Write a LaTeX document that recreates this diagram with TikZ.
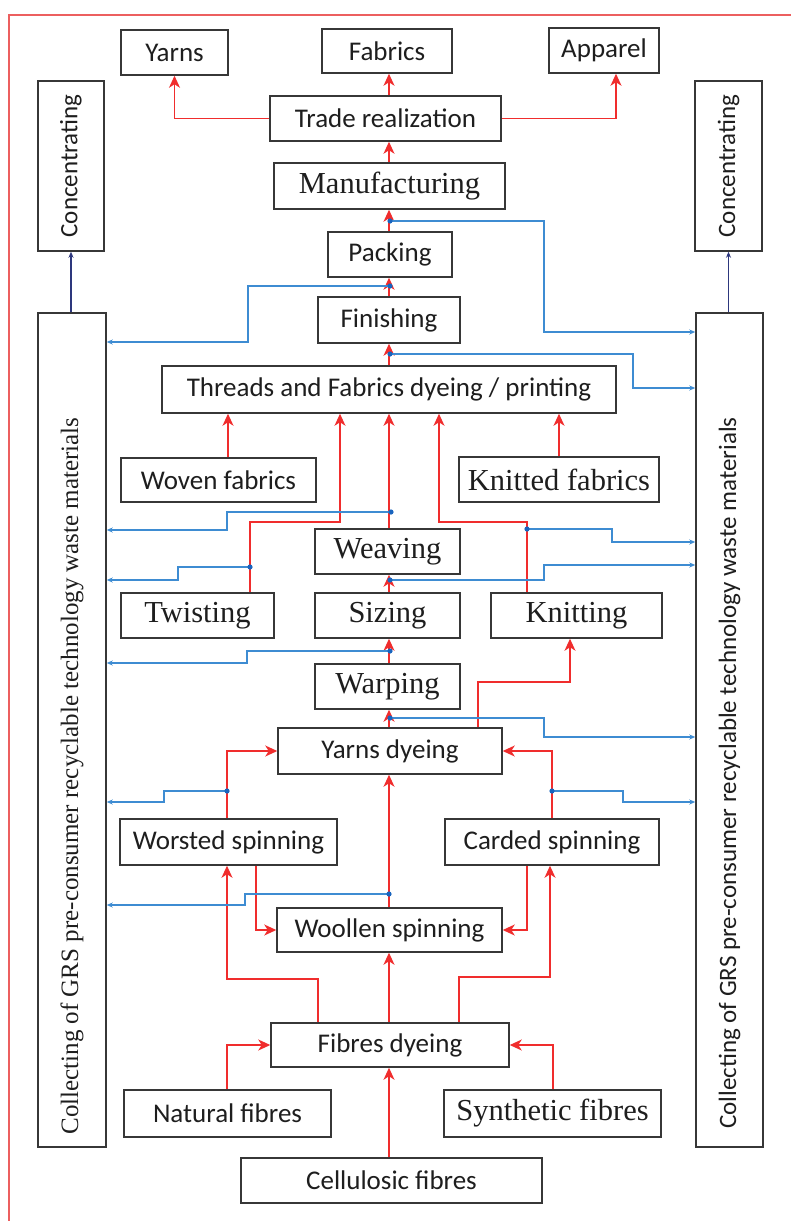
\documentclass[tikz,border=0pt]{standalone}
\usepackage{fontspec}
\setmainfont{Carlito}
\newfontfamily\serifface{Liberation Serif}
\usetikzlibrary{arrows.meta}
\definecolor{flowred}{RGB}{240,45,45}
\definecolor{wasteblue}{RGB}{62,140,210}
\definecolor{dotblue}{RGB}{25,100,190}
\definecolor{navyline}{RGB}{45,55,125}
\definecolor{framered}{RGB}{236,95,95}
\definecolor{boxline}{RGB}{55,55,55}
\definecolor{ink}{RGB}{30,30,30}

\begin{document}
\begin{tikzpicture}[x=1pt,y=-1pt,
  box/.style={draw=boxline, line width=1.5pt, inner sep=0pt, text=ink,
    font=\fontsize{27}{30}\selectfont},
  sbox/.style={box, font=\serifface\fontsize{30.5}{33}\selectfont},
  vlabel/.style={rotate=90, inner sep=0pt, text=ink},
  rarr/.style={draw=flowred, line width=1.3pt,
    -{Stealth[length=12pt,width=11pt,inset=3.5pt]}},
  barr/.style={draw=wasteblue, line width=1.3pt,
    -{Stealth[length=6pt,width=5pt]}},
  narr/.style={draw=navyline, line width=1.2pt,
    -{Stealth[length=6pt,width=5pt]}},
  wdot/.style={fill=dotblue},
  frame/.style={draw=framered, line width=1.6pt}
]
\useasboundingbox (0,0) rectangle (791,1221);
\fill[white] (0,0) rectangle (791,1221);

% outer frame
\draw[frame] (9,1221) -- (9,15) -- (791,15);

% column of the main flow
\coordinate (cx) at (389,0);

% ---- boxes ----
\node[box, minimum width=107pt, minimum height=45pt] (yarns)   at (174.5,52.5) {Yarns};
\node[box, minimum width=130pt, minimum height=44pt] (fabrics) at (387,51) {Fabrics};
\node[box, minimum width=110pt, minimum height=45pt] (apparel) at (604,50.5) {Apparel};
\node[box, minimum width=231pt, minimum height=45pt] (trade)   at (385.5,118.5) {Trade realization};
\node[sbox, minimum width=231pt, minimum height=46pt] (manuf)  at (389.5,186) {Manufacturing};
\node[box, minimum width=124pt, minimum height=45pt] (packing) at (390,254.5) {Packing};
\node[box, minimum width=142pt, minimum height=46pt] (finish)  at (389,320) {Finishing};
\node[box, minimum width=454pt, minimum height=47pt] (threads) at (389,389.5) {Threads and Fabrics dyeing / printing};
\node[box, minimum width=195pt, minimum height=44pt] (woven)   at (218.5,480) {Woven fabrics};
\node[sbox, minimum width=200pt, minimum height=45pt] (knitted) at (559,479.5) {Knitted fabrics};
\node[sbox, minimum width=145pt, minimum height=45pt] (weaving) at (387.5,551.5) {Weaving};
\node[sbox, minimum width=153pt, minimum height=45pt] (twisting) at (197.5,615.5) {Twisting};
\node[sbox, minimum width=145pt, minimum height=45pt] (sizing)  at (387.5,615.5) {Sizing};
\node[sbox, minimum width=171pt, minimum height=45pt] (knitting) at (576.5,615.5) {Knitting};
\node[sbox, minimum width=145pt, minimum height=45pt] (warping) at (387.5,686.5) {Warping};
\node[box, minimum width=224pt, minimum height=46pt] (yarnsdye) at (390,751) {Yarns dyeing};
\node[box, minimum width=217pt, minimum height=46pt] (worsted) at (228.5,842) {Worsted spinning};
\node[box, minimum width=214pt, minimum height=46pt] (carded)  at (552,842) {Carded spinning};
\node[box, minimum width=225pt, minimum height=44pt] (woollen) at (389.5,930) {Woollen spinning};
\node[box, minimum width=238pt, minimum height=44pt] (fibres)  at (390,1045) {Fibres dyeing};
\node[box, minimum width=207pt, minimum height=47pt] (natural) at (227.5,1113.5) {Natural fibres};
\node[sbox, minimum width=217pt, minimum height=47pt] (synth)  at (552.5,1113.5) {Synthetic fibres};
\node[box, minimum width=301pt, minimum height=45pt] (cellu)   at (391.5,1180.5) {Cellulosic fibres};

% side columns
\node[box, minimum width=66pt, minimum height=170pt] (concL) at (71,166) {};
\node[box, minimum width=67pt, minimum height=170pt] (concR) at (728.5,166) {};
\node[box, minimum width=68pt, minimum height=834pt] (collL) at (72,730) {};
\node[box, minimum width=67pt, minimum height=834pt] (collR) at (729.5,730) {};
\node[vlabel, font=\fontsize{25}{28}\selectfont] (concLt) at (concL) {Concentrating};
\node[vlabel, font=\fontsize{25}{28}\selectfont] (concRt) at (concR) {Concentrating};
\node[vlabel, font=\serifface\fontsize{25}{28}\selectfont] (collLt) at ([yshift=-46pt]collL.center)
  {Collecting of GRS pre-consumer recyclable technology waste materials};
\node[vlabel, font=\fontsize{25}{28}\selectfont] (collRt) at ([yshift=-43pt]collR.center)
  {Collecting of GRS pre-consumer recyclable technology waste materials};

% ---- material flow (red) ----
\draw[rarr] (trade.west) -| (yarns.south);
\draw[rarr] (trade.east) -| (apparel.south -| 616,0);
\draw[rarr] (trade.north -| cx) -- (fabrics.south -| cx);
\draw[rarr] (manuf.north -| cx) -- (trade.south -| cx);
\draw[rarr] (packing.north -| cx) -- (manuf.south -| cx);
\draw[rarr] (finish.north -| cx) -- (packing.south -| cx);
\draw[rarr] (threads.north -| cx) -- (finish.south -| cx);

\draw[rarr] (woven.north -| 228,0) -- (threads.south -| 228,0);
\draw[rarr] (twisting.north -| 250,0) -- (250,522) -| (threads.south -| 340,0);
\draw[rarr] (weaving.north -| cx) -- (threads.south -| cx);
\draw[rarr] (knitting.north -| 527,0) -- (527,522) -| (threads.south -| 439,0);
\draw[rarr] (knitted.north -| 559,0) -- (threads.south -| 559,0);

\draw[rarr] (sizing.north -| cx) -- (weaving.south -| cx);
\draw[rarr] (warping.north -| cx) -- (sizing.south -| cx);
\draw[rarr] (yarnsdye.north -| cx) -- (warping.south -| cx);
\draw[rarr] (yarnsdye.north -| 478,0) -- (478,682) -| (knitting.south -| 570,0);

\draw[rarr] (worsted.north -| 227,0) |- (yarnsdye.west);
\draw[rarr] (carded.north -| 552,0) |- (yarnsdye.east);
\draw[rarr] (woollen.north -| cx) -- (yarnsdye.south -| cx);
\draw[rarr] (worsted.south -| 256,0) |- (woollen.west);
\draw[rarr] (carded.south -| 527,0) |- (woollen.east);

\draw[rarr] (fibres.north -| 318,0) -- (318,979) -| (worsted.south -| 227,0);
\draw[rarr] (fibres.north -| cx) -- (woollen.south -| cx);
\draw[rarr] (fibres.north -| 459,0) -- (459,977) -| (carded.south -| 550,0);
\draw[rarr] (natural.north -| 227,0) |- (fibres.west);
\draw[rarr] (synth.north -| 553,0) |- (fibres.east);
\draw[rarr] (cellu.north -| cx) -- (fibres.south -| cx);

% ---- waste collection (blue) ----
\coordinate (d1) at (390,221);
\coordinate (d2) at (390,286);
\coordinate (d3) at (390,354);
\coordinate (d4) at (391,512);
\coordinate (d5) at (250,567);
\coordinate (d6) at (527,529);
\coordinate (d7) at (390,580);
\coordinate (d8) at (390,651);
\coordinate (d9) at (390,718);
\coordinate (d10) at (227,791);
\coordinate (d11) at (552,791);
\coordinate (d12) at (389,894);

\draw[barr] (d1) -- (544,221) |- (collR.west |- 0,332);
\draw[barr] (d2) -- (248,286) |- (collL.east |- 0,342);
\draw[barr] (d3) -- (633,354) |- (collR.west |- 0,388);
\draw[barr] (d4) -- (227,512) |- (collL.east |- 0,530);
\draw[barr] (d5) -- (178,567) |- (collL.east |- 0,580);
\draw[barr] (d6) -- (612,529) |- (collR.west |- 0,542);
\draw[barr] (d7) -- (544,580) |- (collR.west |- 0,565);
\draw[barr] (d8) -- (247,651) |- (collL.east |- 0,663);
\draw[barr] (d9) -- (544,718) |- (collR.west |- 0,737);
\draw[barr] (d10) -- (164,791) |- (collL.east |- 0,802);
\draw[barr] (d11) -- (623,791) |- (collR.west |- 0,802);
\draw[barr] (d12) -- (245,894) |- (collL.east |- 0,905);

\foreach \d in {d1,d2,d3,d4,d5,d6,d7,d8,d9,d10,d11,d12}
  \fill[wdot] (\d) circle (2.6pt);

% ---- concentrating ----
\draw[narr] (concL.south |- collL.north) -- (concL.south);
\draw[narr] (concR.south |- collR.north) -- (concR.south);
\end{tikzpicture}
\end{document}
